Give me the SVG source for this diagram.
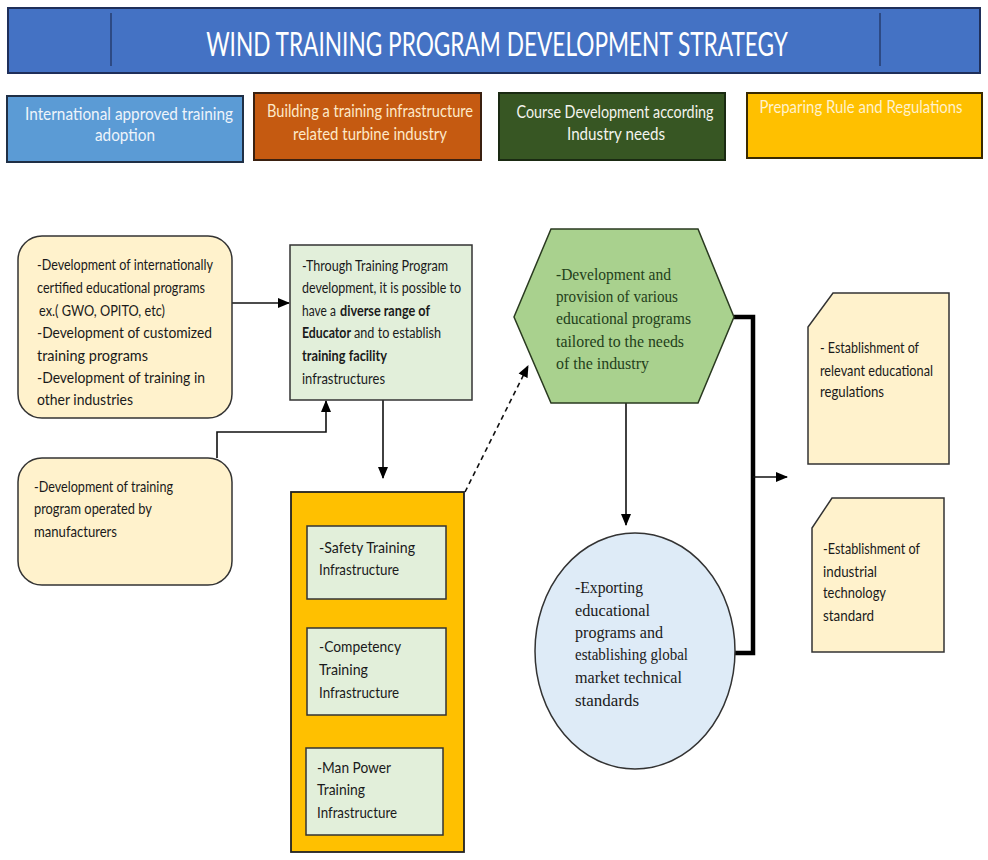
<svg xmlns="http://www.w3.org/2000/svg" width="988" height="860" viewBox="0 0 988 860">
<style>
.t{font-family:Lato,"Liberation Sans",sans-serif;font-size:16px;fill:#1a1a1a}
.b{font-weight:bold}
.s{font-family:"Liberation Serif","DejaVu Serif",serif;font-size:17px}
.hx{fill:#23401a}
.ci{fill:#1a1a1a}
.cat{font-family:Lato,"Liberation Sans",sans-serif;font-size:17px;text-anchor:middle}
.ln{stroke:#111;stroke-width:1.6;fill:none}
.thick{stroke:#000;stroke-width:4.5;fill:none}
.yb{fill:#fff2cc;stroke:#333;stroke-width:1.5}
.gb{fill:#e2efda;stroke:#333;stroke-width:1.5}
</style>
<defs>
<marker id="ah" markerUnits="userSpaceOnUse" markerWidth="12" markerHeight="12" viewBox="0 0 12 12" refX="11" refY="6" orient="auto">
<path d="M0,1 L12,6 L0,11 z" fill="#000"/>
</marker>
</defs>
<rect width="988" height="860" fill="#fff"/>

<g id="title">
<rect x="8" y="8" width="972" height="65" fill="#4472c4" stroke="#1f2f5a" stroke-width="2"/>
<line x1="111" y1="13" x2="111" y2="66" stroke="#1f2f5a" stroke-width="1.2"/>
<line x1="880" y1="13" x2="880" y2="66" stroke="#1f2f5a" stroke-width="1.2"/>
<text transform="translate(497,56) scale(0.72,1)" x="0" y="0" text-anchor="middle" font-family="Lato,'Liberation Sans',sans-serif" font-size="32" fill="#fff" textLength="808" lengthAdjust="spacingAndGlyphs">WIND TRAINING PROGRAM DEVELOPMENT STRATEGY</text>
</g>

<g id="cat-blue">
<rect x="7" y="96" width="236" height="66" fill="#5b9bd5" stroke="#1f2f45" stroke-width="2"/>
<text class="cat" x="129" y="120" fill="#eef4fb" textLength="208" lengthAdjust="spacingAndGlyphs">International approved training</text>
<text class="cat" x="125" y="141" fill="#eef4fb" textLength="60" lengthAdjust="spacingAndGlyphs">adoption</text>
</g>
<g id="cat-orange">
<rect x="254" y="93" width="227" height="67" fill="#c55a11" stroke="#3a2010" stroke-width="2"/>
<text class="cat" x="370" y="117" fill="#fde9c8" textLength="206" lengthAdjust="spacingAndGlyphs">Building a training infrastructure</text>
<text class="cat" x="370" y="140" fill="#fde9c8" textLength="154" lengthAdjust="spacingAndGlyphs">related turbine industry</text>
</g>
<g id="cat-green">
<rect x="499" y="93" width="226" height="67" fill="#375623" stroke="#1a2a12" stroke-width="2"/>
<text class="cat" x="615" y="118" fill="#f4f4ee" textLength="197" lengthAdjust="spacingAndGlyphs">Course Development according</text>
<text class="cat" x="616" y="140" fill="#f4f4ee" textLength="98" lengthAdjust="spacingAndGlyphs">Industry needs</text>
</g>
<g id="cat-gold">
<rect x="747" y="93" width="235" height="65" fill="#ffc000" stroke="#3a2a00" stroke-width="2"/>
<text class="cat" transform="translate(861,113) scale(0.85,1)" x="0" y="0" fill="#fff2cc" textLength="239" lengthAdjust="spacingAndGlyphs">Preparing Rule and Regulations</text>
</g>

<g id="connectors">
<line class="ln" x1="232" y1="303" x2="289" y2="303" marker-end="url(#ah)"/>
<polyline class="ln" points="217,458 217,432 326,432 326,401" marker-end="url(#ah)"/>
<line class="ln" x1="383" y1="400" x2="383" y2="478" marker-end="url(#ah)"/>
<line class="ln" x1="465" y1="492" x2="528" y2="366" stroke-dasharray="5,4" marker-end="url(#ah)"/>
<line class="ln" x1="626" y1="403" x2="626" y2="525" marker-end="url(#ah)"/>
<polyline class="thick" points="734,317 753,317 753,653 734,653"/>
<line class="ln" x1="753" y1="477" x2="787" y2="477" marker-end="url(#ah)"/>
</g>

<g id="node-intl">
<rect class="yb" x="18" y="236" width="214" height="182" rx="24"/>
<text class="t" x="37" y="270" textLength="176" lengthAdjust="spacingAndGlyphs">-Development of internationally</text>
<text class="t" x="37" y="293" textLength="168" lengthAdjust="spacingAndGlyphs">certified educational programs</text>
<text class="t" x="39" y="316" textLength="126" lengthAdjust="spacingAndGlyphs">ex.( GWO, OPITO, etc)</text>
<text class="t" x="37" y="338" textLength="175" lengthAdjust="spacingAndGlyphs">-Development of customized</text>
<text class="t" x="37" y="361" textLength="111" lengthAdjust="spacingAndGlyphs">training programs</text>
<text class="t" x="37" y="383" textLength="168" lengthAdjust="spacingAndGlyphs">-Development of training in</text>
<text class="t" x="37" y="405" textLength="96" lengthAdjust="spacingAndGlyphs">other industries</text>
</g>

<g id="node-manuf">
<rect class="yb" x="18" y="458" width="214" height="127" rx="24"/>
<text class="t" x="34" y="492" textLength="139" lengthAdjust="spacingAndGlyphs">-Development of training</text>
<text class="t" x="34" y="514" textLength="118" lengthAdjust="spacingAndGlyphs">program operated by</text>
<text class="t" x="34" y="537" textLength="83" lengthAdjust="spacingAndGlyphs">manufacturers</text>
</g>

<g id="node-through">
<rect class="gb" x="290" y="245" width="182" height="155"/>
<text class="t" x="302" y="271" textLength="146" lengthAdjust="spacingAndGlyphs">-Through Training Program</text>
<text class="t" x="302" y="293" textLength="159" lengthAdjust="spacingAndGlyphs">development, it is possible to</text>
<text class="t" transform="translate(302,316) scale(0.72,1)" x="0" y="0" textLength="47" lengthAdjust="spacingAndGlyphs">have a</text>
<text class="t b" transform="translate(340,316) scale(0.72,1)" x="0" y="0" textLength="125" lengthAdjust="spacingAndGlyphs">diverse range of</text>
<text class="t b" transform="translate(302,338) scale(0.72,1)" x="0" y="0" textLength="68" lengthAdjust="spacingAndGlyphs">Educator</text>
<text class="t" transform="translate(354,338) scale(0.72,1)" x="0" y="0" textLength="121" lengthAdjust="spacingAndGlyphs">and to establish</text>
<text class="t b" x="302" y="361" textLength="85" lengthAdjust="spacingAndGlyphs">training facility</text>
<text class="t" x="302" y="384" textLength="83" lengthAdjust="spacingAndGlyphs">infrastructures</text>
</g>

<g id="node-infra">
<rect x="291" y="492" width="173" height="360" fill="#ffc000" stroke="#222" stroke-width="1.8"/>
</g>
<g id="node-safety">
<rect class="gb" x="307" y="526" width="139" height="73"/>
<text class="t" x="319" y="553" textLength="96" lengthAdjust="spacingAndGlyphs">-Safety Training</text>
<text class="t" x="319" y="575" textLength="80" lengthAdjust="spacingAndGlyphs">Infrastructure</text>
</g>
<g id="node-competency">
<rect class="gb" x="307" y="628" width="139" height="87"/>
<text class="t" x="319" y="652" textLength="82" lengthAdjust="spacingAndGlyphs">-Competency</text>
<text class="t" x="319" y="675" textLength="49" lengthAdjust="spacingAndGlyphs">Training</text>
<text class="t" x="319" y="698" textLength="80" lengthAdjust="spacingAndGlyphs">Infrastructure</text>
</g>
<g id="node-manpower">
<rect class="gb" x="306" y="748" width="137" height="87"/>
<text class="t" x="317" y="773" textLength="74" lengthAdjust="spacingAndGlyphs">-Man Power</text>
<text class="t" x="317" y="795" textLength="48" lengthAdjust="spacingAndGlyphs">Training</text>
<text class="t" x="317" y="818" textLength="80" lengthAdjust="spacingAndGlyphs">Infrastructure</text>
</g>

<g id="node-hexagon">
<polygon points="551,229 698,229 734,317 698,403 551,403 514,317" fill="#a9d18e" stroke="#2a3a20" stroke-width="1.5"/>
<text class="s hx" x="556" y="280" textLength="115" lengthAdjust="spacingAndGlyphs">-Development and</text>
<text class="s hx" x="556" y="302" textLength="122" lengthAdjust="spacingAndGlyphs">provision of various</text>
<text class="s hx" x="556" y="324" textLength="135" lengthAdjust="spacingAndGlyphs">educational programs</text>
<text class="s hx" x="556" y="347" textLength="128" lengthAdjust="spacingAndGlyphs">tailored to the needs</text>
<text class="s hx" x="556" y="369" textLength="93" lengthAdjust="spacingAndGlyphs">of the industry</text>
</g>

<g id="node-export">
<ellipse cx="635" cy="651" rx="100" ry="118" fill="#deebf7" stroke="#333" stroke-width="1.5"/>
<text class="s ci" x="575" y="593" textLength="68" lengthAdjust="spacingAndGlyphs">-Exporting</text>
<text class="s ci" x="575" y="616" textLength="75" lengthAdjust="spacingAndGlyphs">educational</text>
<text class="s ci" x="575" y="638" textLength="88" lengthAdjust="spacingAndGlyphs">programs and</text>
<text class="s ci" x="575" y="660" textLength="113" lengthAdjust="spacingAndGlyphs">establishing global</text>
<text class="s ci" x="575" y="683" textLength="107" lengthAdjust="spacingAndGlyphs">market technical</text>
<text class="s ci" x="575" y="706" textLength="64" lengthAdjust="spacingAndGlyphs">standards</text>
</g>

<g id="node-regulations">
<polygon class="yb" points="833,293 949,293 949,464 808,464 808,327"/>
<text class="t" x="820" y="353" font-size="15" textLength="99" lengthAdjust="spacingAndGlyphs">- Establishment of</text>
<text class="t" x="820" y="376" font-size="15" textLength="113" lengthAdjust="spacingAndGlyphs">relevant educational</text>
<text class="t" x="820" y="397" font-size="15" textLength="64" lengthAdjust="spacingAndGlyphs">regulations</text>
</g>

<g id="node-standard">
<polygon class="yb" points="832,498 944,498 944,652 812,652 812,528"/>
<text class="t" x="823" y="554" font-size="15" textLength="97" lengthAdjust="spacingAndGlyphs">-Establishment of</text>
<text class="t" x="823" y="577" font-size="15" textLength="54" lengthAdjust="spacingAndGlyphs">industrial</text>
<text class="t" x="823" y="598" font-size="15" textLength="63" lengthAdjust="spacingAndGlyphs">technology</text>
<text class="t" x="823" y="621" font-size="15" textLength="51" lengthAdjust="spacingAndGlyphs">standard</text>
</g>
</svg>
